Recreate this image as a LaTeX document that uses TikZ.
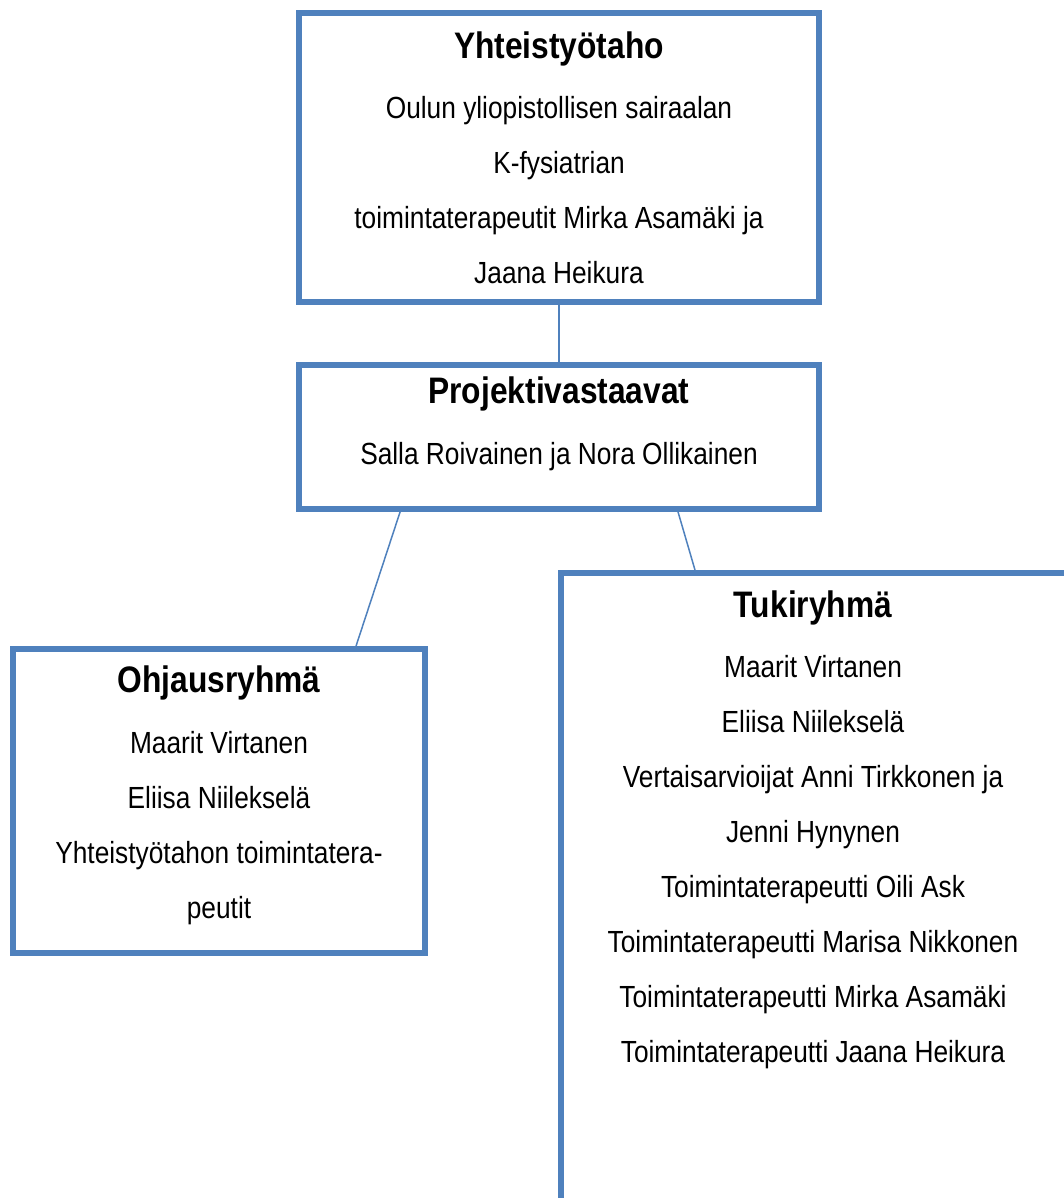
\documentclass[tikz,border=0pt]{standalone}
\usepackage{fontspec}
\setmainfont{Liberation Sans}[FakeStretch=0.86]
\definecolor{boxblue}{HTML}{4F81BD}
\newcommand{\Otsikko}[1]{{\fontsize{21}{31.3}\selectfont\bfseries #1}}

\begin{document}
\begin{tikzpicture}[x=0.02cm, y=-0.02cm,
box/.style={draw=boxblue, line width=0.12cm, align=center, inner sep=0, font=\fontsize{17.4}{31.3}\selectfont},
boxtext/.style={align=center, inner sep=0, font=\fontsize{17.4}{31.3}\selectfont},
link/.style={draw=boxblue, line width=0.03cm},
]
%%%%%%%%%% SIZE OF THE PICTURE %%%%%%%%%%
\useasboundingbox (0,0) rectangle (1064,1198);
\clip (0,0) rectangle (1064,1198);
\fill[white] (0,0) rectangle (1064,1198);

%%%%%%%%%% BOXES %%%%%%%%%%
\node[box, minimum width=10.4cm, minimum height=5.78cm] (yhteis) at (559,157.5) {\Otsikko{Yhteistyötaho}\\[3pt]
  Oulun yliopistollisen sairaalan\\ K-fysiatrian\\ toimintaterapeutit Mirka Asamäki ja\\ Jaana Heikura};
\node[box, minimum width=10.4cm, minimum height=2.88cm, text depth=19pt] (proj) at (559,437) {\Otsikko{Projektivastaavat}\\[3.5pt]
  Salla Roivainen ja Nora Ollikainen};
\node[box, minimum width=8.24cm, minimum height=6.08cm, text depth=10pt] (ohjaus) at (219,801) {\Otsikko{Ohjausryhmä}\\[3pt]
  Maarit Virtanen\\ Eliisa Niileksel\"a\\ Yhteistyötahon toimintatera-\\ peutit};
\node[box, anchor=north west, minimum width=12cm, minimum height=14cm] (tuki) at (558,570) {}; % runs off the page
\node[boxtext] (tukiteksti) at (813,830) {\Otsikko{Tukiryhmä}\\[3pt]
  Maarit Virtanen\\ Eliisa Niileksel\"a\\ Vertaisarvioijat Anni Tirkkonen ja\\ Jenni Hynynen\\
  Toimintaterapeutti Oili Ask\\ Toimintaterapeutti Marisa Nikkonen\\
  Toimintaterapeutti Mirka Asamäki\\ Toimintaterapeutti Jaana Heikura};

%%%%%%%%%% LINKS %%%%%%%%%%
\draw[link] (yhteis.south) -- (proj.north);
\draw[link] ([shift={(104,0)}]proj.south west) -- ([shift={(346,0)}]ohjaus.north west);
\draw[link] ([shift={(382,0)}]proj.south west) -- ([shift={(137,0)}]tuki.north west);
\end{tikzpicture}
\end{document}
